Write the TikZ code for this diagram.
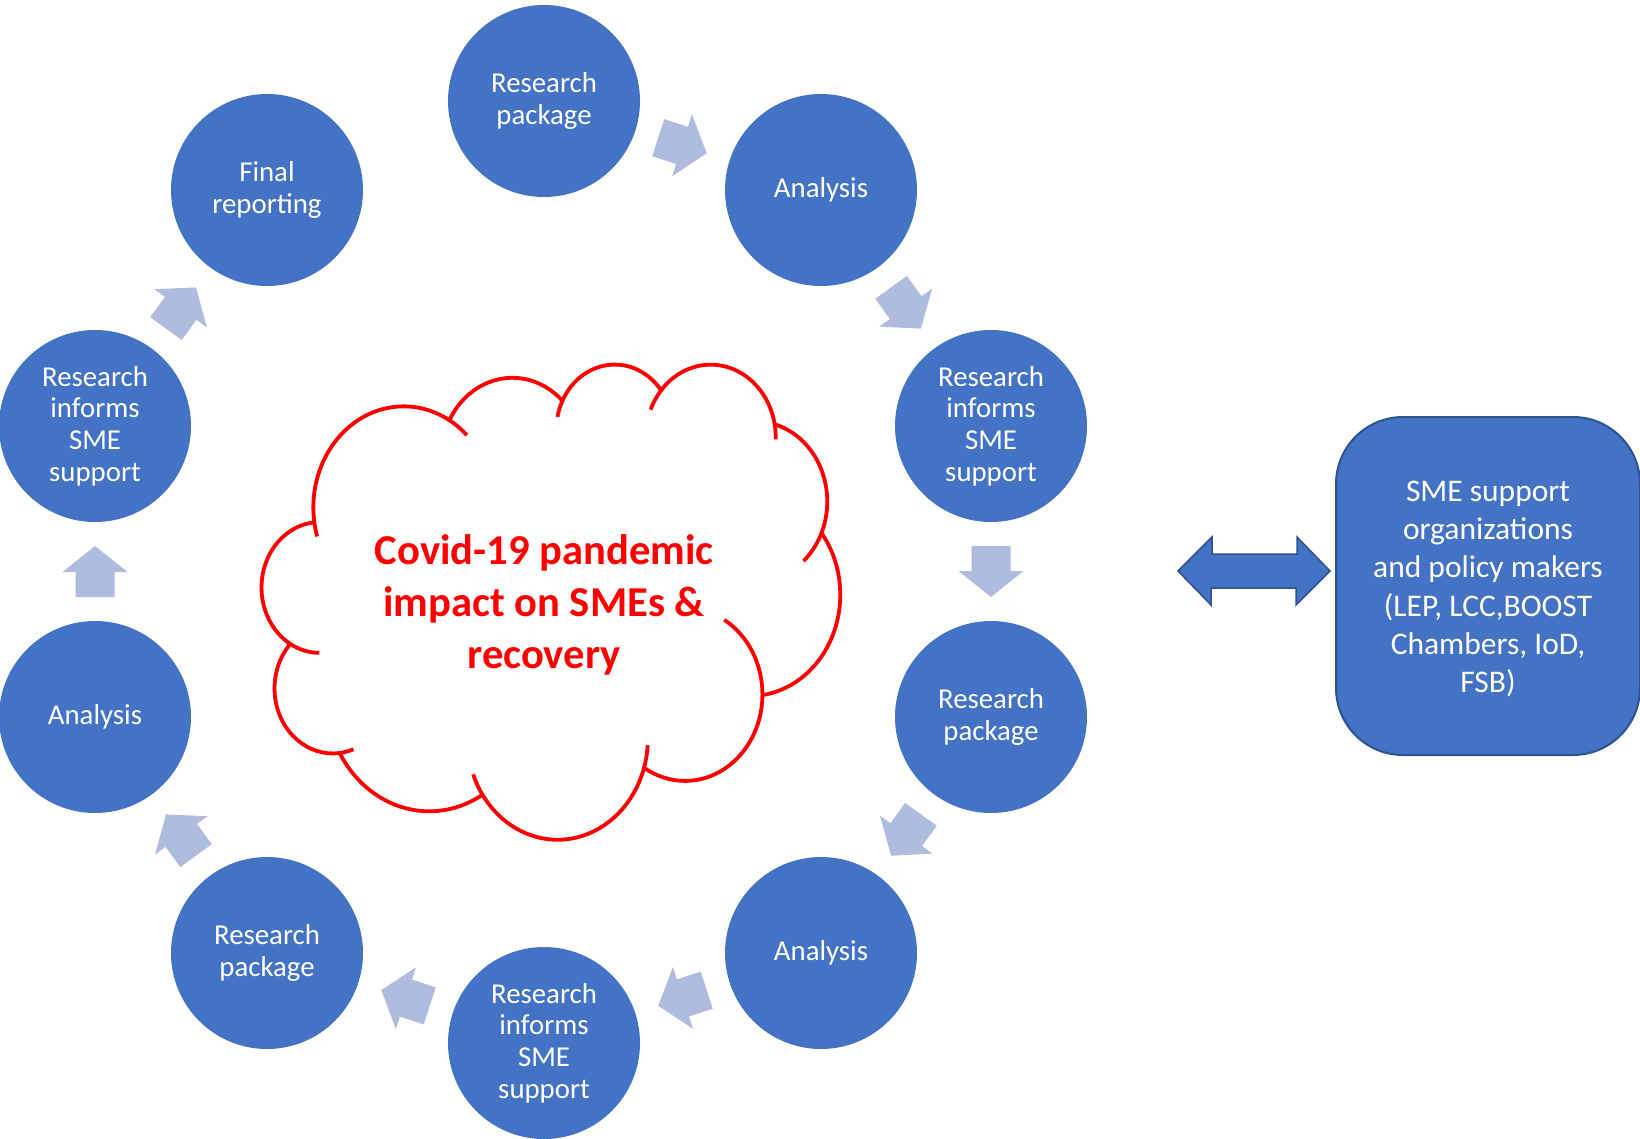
\documentclass[tikz,border=0pt]{standalone}
\usepackage{fontspec}
\setmainfont{Carlito}
\usetikzlibrary{calc}
\definecolor{cblue}{HTML}{4472C4}
\definecolor{cborder}{HTML}{2F528F}
\definecolor{carrow}{RGB}{176,188,222}
\definecolor{cred}{HTML}{FF0000}

% ---- cloud geometry (preset cloud, path space 432 x 432) ----
\newcommand\clset[2]{\expandafter\xdef\csname #1\endcsname{#2}}
\newcommand\clget[1]{\csname #1\endcsname}
\xdef\clpx{39.00}\xdef\clpy{143.70}
\newcommand\cloudarc[5]{%
 \pgfmathsetmacro\tmpa{atan2((#2)*sin(#4),(#3)*cos(#4))}%
 \pgfmathsetmacro\tmpb{atan2((#2)*sin((#4)+(#5)),(#3)*cos((#4)+(#5)))}%
 \pgfmathsetmacro\tmpd{\tmpb-\tmpa}%
 \pgfmathsetmacro\tmpd{ifthenelse(\tmpd<0,\tmpd+360,\tmpd)}%
 \pgfmathsetmacro\tmpe{\tmpa+\tmpd}%
 \pgfmathsetmacro\tmpcx{\clpx-(#2)*cos(\tmpa)}%
 \pgfmathsetmacro\tmpcy{\clpy-(#3)*sin(\tmpa)}%
 \pgfmathsetmacro\tmpex{\tmpcx+(#2)*cos(\tmpe)}%
 \pgfmathsetmacro\tmpey{\tmpcy+(#3)*sin(\tmpe)}%
 \clset{ta#1}{\tmpa}\clset{tb#1}{\tmpe}\clset{dt#1}{\tmpd}%
 \clset{cx#1}{\tmpcx}\clset{cy#1}{\tmpcy}\clset{rx#1}{#2}\clset{ry#1}{#3}%
 \xdef\clpx{\tmpex}\xdef\clpy{\tmpey}%
}
\cloudarc{1}{67.53}{91.90}{-190.4875}{123.7805}
\cloudarc{2}{53.33}{72.67}{-144.1024}{89.9452}
\cloudarc{3}{43.65}{59.45}{-145.8079}{99.7230}
\cloudarc{4}{48.57}{65.95}{-130.9861}{117.2417}
\cloudarc{5}{53.33}{72.73}{-78.7089}{109.0269}
\cloudarc{6}{67.75}{92.20}{-46.2673}{130.2690}
\cloudarc{7}{57.85}{78.67}{0.6250}{114.0333}
\cloudarc{8}{67.52}{92.15}{22.4516}{115.1726}
\cloudarc{9}{77.20}{105.43}{66.2426}{75.7110}
\cloudarc{10}{43.60}{59.18}{-274.9421}{146.7356}
\cloudarc{11}{43.45}{59.45}{-246.8285}{152.5189}
\newcommand\clext[3]{\draw[cloudline] (\clget{cx#1},\clget{cy#1}) ++(\clget{#2#1}:\clget{rx#1} and \clget{ry#1})
   arc[x radius=\clget{rx#1}, y radius=\clget{ry#1}, start angle=\clget{#2#1}, delta angle=#3];}

\begin{document}
\begin{tikzpicture}[x=1pt,y=-1pt,
  stage/.style={circle, fill=cblue, text=white, minimum size=192pt, inner sep=0pt,
    align=center, font=\fontsize{28.8}{31.7}\selectfont},
  cyclearrow/.pic={\fill[carrow] (-25.5,-19.5) -- (-0.5,-19.5) -- (-0.5,-32.5) -- (25.5,0)
     -- (-0.5,32.5) -- (-0.5,19.5) -- (-25.5,19.5) -- cycle;},
  cloudline/.style={draw=cred, line width=3.8pt},
  orgbox/.style={rectangle, rounded corners=67pt, fill=cblue, draw=cborder, line width=2pt,
    minimum width=304pt, minimum height=338pt, text=white, align=center,
    font=\fontsize{31.5}{38.3}\selectfont},
  linkarrow/.style={fill=cblue, draw=cborder, line width=1.5pt, line join=miter}
]
\useasboundingbox (0,0) rectangle (1640,1138);

% ---- stages ----
\node[stage] (c1)  at (544,101)  {Research\\package};
\node[stage] (c2)  at (821,190)  {Analysis};
\node[stage] (c3)  at (991,426)  {Research\\informs\\SME\\support};
\node[stage] (c4)  at (991,717)  {Research\\package};
\node[stage] (c5)  at (821,953)  {Analysis};
\node[stage] (c6)  at (544,1043) {Research\\informs\\SME\\support};
\node[stage] (c7)  at (267,953)  {Research\\package};
\node[stage] (c8)  at (95,717)   {Analysis};
\node[stage] (c9)  at (95,426)   {Research\\informs\\SME\\support};
\node[stage] (c10) at (267,190)  {Final\\reporting};

% ---- cycle arrows (block arrows between consecutive stages) ----
\pic[rotate=-17.8]  at ($(c1)!0.5!(c2)$)  {cyclearrow};
\pic[rotate=-54.2]  at ($(c2)!0.5!(c3)$)  {cyclearrow};
\pic[rotate=-90]    at ($(c3)!0.5!(c4)$)  {cyclearrow};
\pic[rotate=-125.8] at ($(c4)!0.5!(c5)$)  {cyclearrow};
\pic[rotate=-162]   at ($(c5)!0.5!(c6)$)  {cyclearrow};
\pic[rotate=162]    at ($(c6)!0.5!(c7)$)  {cyclearrow};
\pic[rotate=126.1]  at ($(c7)!0.5!(c8)$)  {cyclearrow};
\pic[rotate=90]     at ($(c8)!0.5!(c9)$)  {cyclearrow};
\pic[rotate=53.9]   at ($(c9)!0.5!(c10)$) {cyclearrow};

% ---- cloud ----
\begin{scope}[shift={(262,363)}, xscale=578/432, yscale=475/432]
\draw[cloudline, line join=round] (39,143.7)
  arc[x radius=\clget{rx1}, y radius=\clget{ry1}, start angle=\clget{ta1}, delta angle=\clget{dt1}]
  arc[x radius=\clget{rx2}, y radius=\clget{ry2}, start angle=\clget{ta2}, delta angle=\clget{dt2}]
  arc[x radius=\clget{rx3}, y radius=\clget{ry3}, start angle=\clget{ta3}, delta angle=\clget{dt3}]
  arc[x radius=\clget{rx4}, y radius=\clget{ry4}, start angle=\clget{ta4}, delta angle=\clget{dt4}]
  arc[x radius=\clget{rx5}, y radius=\clget{ry5}, start angle=\clget{ta5}, delta angle=\clget{dt5}]
  arc[x radius=\clget{rx6}, y radius=\clget{ry6}, start angle=\clget{ta6}, delta angle=\clget{dt6}]
  arc[x radius=\clget{rx7}, y radius=\clget{ry7}, start angle=\clget{ta7}, delta angle=\clget{dt7}]
  arc[x radius=\clget{rx8}, y radius=\clget{ry8}, start angle=\clget{ta8}, delta angle=\clget{dt8}]
  arc[x radius=\clget{rx9}, y radius=\clget{ry9}, start angle=\clget{ta9}, delta angle=\clget{dt9}]
  arc[x radius=\clget{rx10}, y radius=\clget{ry10}, start angle=\clget{ta10}, delta angle=\clget{dt10}]
  arc[x radius=\clget{rx11}, y radius=\clget{ry11}, start angle=\clget{ta11}, delta angle=\clget{dt11}]
  -- cycle;
% inner strokes (continuations of lobes)
\clext{1}{ta}{-9}
\clext{1}{tb}{14}
\clext{3}{ta}{-15}
\clext{4}{ta}{-18}
\clext{4}{tb}{12}
\clext{5}{tb}{25}
\clext{7}{ta}{-60}
\clext{8}{ta}{-13}
\clext{8}{tb}{13}
\clext{10}{ta}{-14}
\clext{11}{ta}{-30}
\end{scope}
\node[text=cred, align=center, font=\bfseries\fontsize{42.6}{52}\selectfont] (covid) at (544,605)
  {Covid-19 pandemic\\impact on SMEs \&\\recovery};

% ---- stakeholders ----
\node[orgbox] (org) at (1488,586) {};
\node[text=white, align=center, font=\fontsize{31.5}{38.3}\selectfont] (orgtext) at (1488,589)
  {SME support\\organizations\\and policy makers\\(LEP, LCC,BOOST\\Chambers, IoD,\\FSB)};
\coordinate (linkL) at (1178,571);
\coordinate (linkR) at (org.west |- linkL);
\draw[linkarrow] (linkL) -- ++(34,-34) -- ++(0,17) -- ++(85,0) -- ++(0,-17)
  -- ($(linkR)+(-5,0)$) -- ++(-34,34) -- ++(0,-17) -- ++(-85,0) -- ++(0,17) -- cycle;
\end{tikzpicture}
\end{document}
